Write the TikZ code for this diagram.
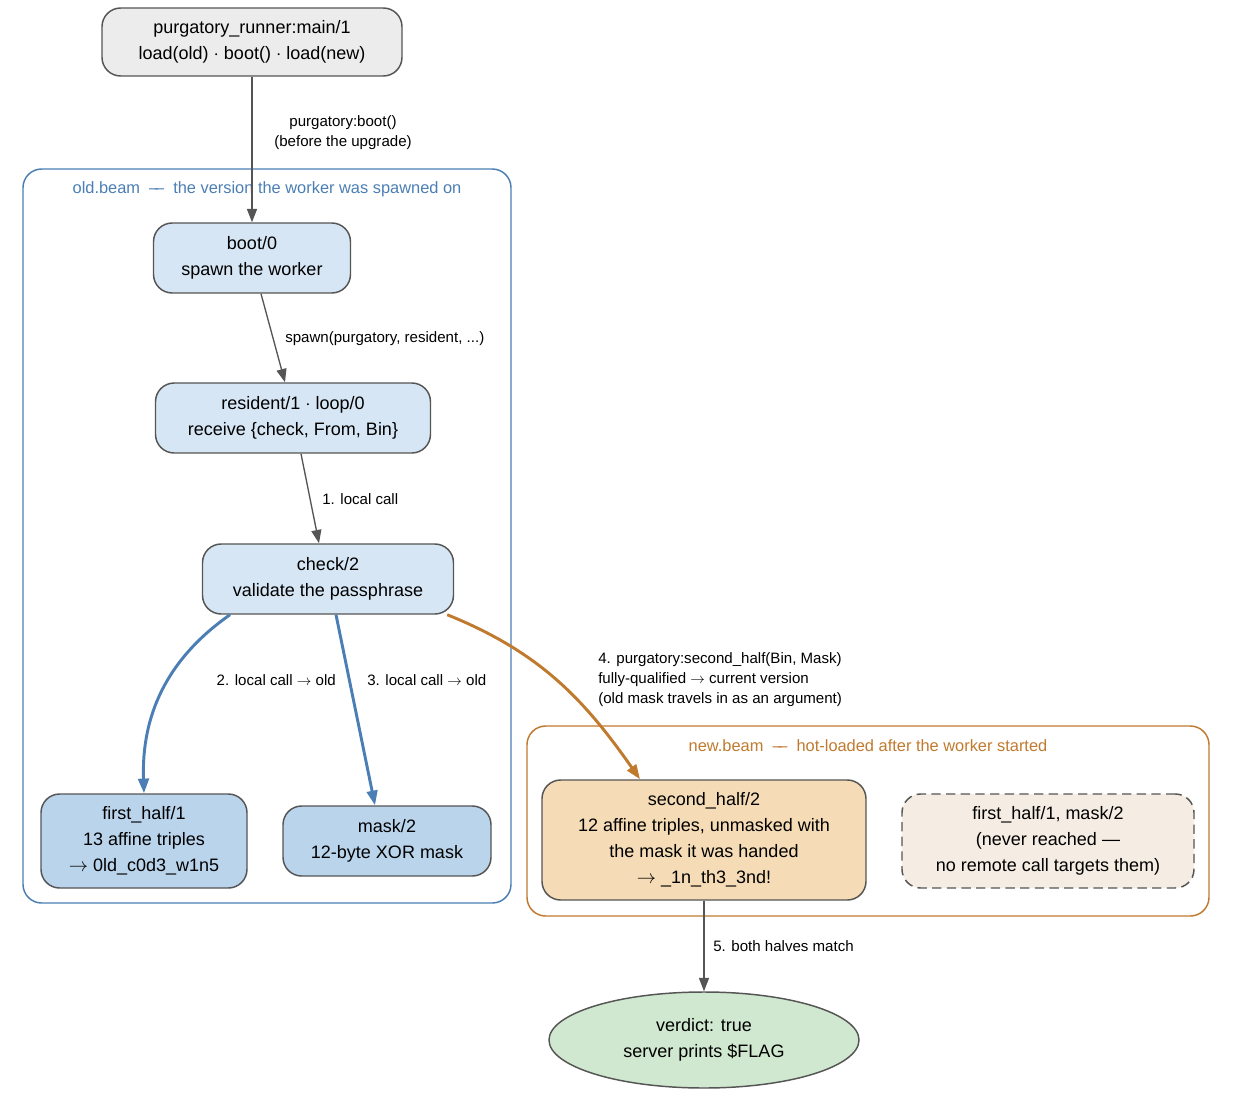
\documentclass[tikz,border=0pt]{standalone}
\usepackage{fontspec}
\setmainfont{Liberation Sans}
\usetikzlibrary{arrows.meta,shapes.geometric}
\newdimen\px \px=0.75pt
\definecolor{edgeC}{HTML}{555555}
\definecolor{oldC}{HTML}{4A7EB4}
\definecolor{newC}{HTML}{C07A2E}
\definecolor{paleBlue}{HTML}{D7E6F4}
\definecolor{midBlue}{HTML}{BAD4EC}
\definecolor{paleOrange}{HTML}{F5DCB6}
\definecolor{paleCream}{HTML}{F5EDE3}
\definecolor{paleGreen}{HTML}{D0E8CF}
\definecolor{paleGray}{HTML}{ECECEC}
\tikzset{
  fn/.style={draw=edgeC,line width=1.1pt,rounded corners=14pt,align=center,
    font=\fontsize{13.5}{19.5}\selectfont,inner sep=0pt},
  lab/.style={font=\fontsize{11.3}{15}\selectfont,inner sep=0pt},
  link/.style={draw=edgeC,line width=1pt,-{Triangle[length=10pt,width=7.5pt]}},
  hot/.style={line width=2.2pt,-{Triangle[length=11pt,width=8pt]}},
  cluster/.style={rounded corners=14pt,line width=1.1pt}
}
\begin{document}
\begin{tikzpicture}[x=0.75pt,y=-0.75pt]
\path[use as bounding box] (0,0) rectangle (1233,1096);
% clusters
\draw[cluster,draw=oldC] (23,169) rectangle (511,903);
\node[lab,text=oldC,font=\fontsize{12.3}{15}\selectfont] (oldlab) at (267,189) {old.beam \ --\kern-0.2em-- \ the version the worker was spawned on};
\draw[cluster,draw=newC] (527,726) rectangle (1209,916);
\node[lab,text=newC,font=\fontsize{12.3}{15}\selectfont] (newlab) at (868,746) {new.beam \ --\kern-0.2em-- \ hot-loaded after the worker started};

% nodes
\node[fn,fill=paleGray,minimum width=300\px,minimum height=68\px] (runner) at (252,42) {purgatory\_runner:main/1\\load(old) $\cdot$ boot() $\cdot$ load(new)};
\node[fn,fill=paleBlue,minimum width=197\px,minimum height=70\px] (boot) at (252,258) {boot/0\\spawn the worker};
\node[fn,fill=paleBlue,minimum width=275\px,minimum height=70\px] (resident) at (293,418) {resident/1 $\cdot$ loop/0\\receive \{check, From, Bin\}};
\node[fn,fill=paleBlue,minimum width=251\px,minimum height=70\px] (check) at (328,579) {check/2\\validate the passphrase};
\node[fn,fill=midBlue,minimum width=206\px,minimum height=94\px] (firsthalf) at (144,841) {first\_half/1\\13 affine triples\\$\rightarrow$ 0ld\_c0d3\_w1n5};
\node[fn,fill=midBlue,minimum width=208\px,minimum height=70\px] (mask) at (387,841) {mask/2\\12-byte XOR mask};
\node[fn,fill=paleOrange,minimum width=324\px,minimum height=120\px] (secondhalf) at (704,840) {second\_half/2\\12 affine triples, unmasked with\\the mask it was handed\\$\rightarrow$ \_1n\_th3\_3nd!};
\node[fn,fill=paleCream,dashed,dash pattern=on 7pt off 4pt,minimum width=292\px,minimum height=94\px] (unreached) at (1048,841) {first\_half/1, mask/2\\(never reached ---\\no remote call targets them)};
\node[fn,ellipse,fill=paleGreen,minimum width=310\px,minimum height=96\px] (verdict) at (704,1040) {verdict: true\\server prints \$FLAG};

% connectors
\draw[link] (runner) -- (boot);
\node[lab,align=center] (l0) at (343,133) {purgatory:boot()\\(before the upgrade)};
\draw[link] ([xshift=9\px]boot.south) -- ([xshift=-8\px]resident.north);
\node[lab,anchor=west] (l1) at (285,339) {spawn(purgatory, resident, ...)};
\draw[link] ([xshift=8\px]resident.south) -- ([xshift=-9\px]check.north);
\node[lab,anchor=west] (l2) at (322,499) {1. local call};
\draw[hot,draw=oldC] ([xshift=-98\px]check.south) to[out=-145,in=92] (firsthalf.north);
\node[lab,anchor=east] (l3) at (336,680) {2. local call $\rightarrow$ old};
\draw[hot,draw=oldC] ([xshift=8\px]check.south) -- ([xshift=-12\px]mask.north);
\node[lab,anchor=west] (l4) at (367,680) {3. local call $\rightarrow$ old};
\draw[hot,draw=newC] ([xshift=-7\px]check.south east) to[out=-22,in=125] ([xshift=-64\px]secondhalf.north);
\node[lab,anchor=west,align=left] (l5) at (598,680) {4. purgatory:second\_half(Bin, Mask)\\fully-qualified $\rightarrow$ current version\\(old mask travels in as an argument)};
\draw[link] (secondhalf) -- (verdict);
\node[lab,anchor=west] (l6) at (713,946) {5. both halves match};
\end{tikzpicture}
\end{document}
